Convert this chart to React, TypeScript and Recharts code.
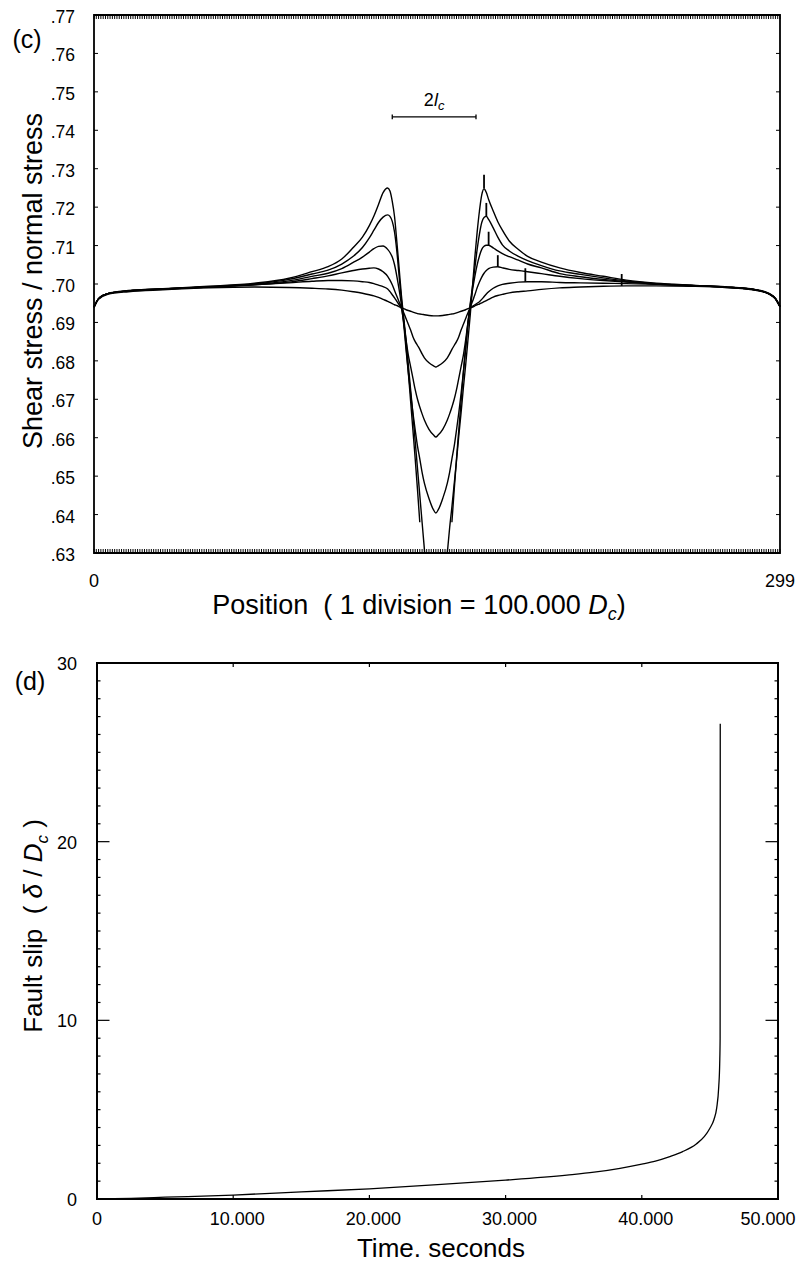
import React from 'react';
import { LineChart, Line, XAxis, YAxis, ReferenceLine, ReferenceArea } from 'recharts';

const FONT = "'Liberation Sans', Arial, Helvetica, sans-serif";

// ---- panel (c): shear/normal stress profiles along the fault ----
const POSITIONS = [
  0, 2, 6, 15, 30, 50, 70, 85, 95, 102,
  108, 113, 117, 120, 122, 124, 126, 128, 129, 130,
  131, 132, 133, 134, 135, 136, 137, 138, 139, 140,
  141, 142, 143, 144, 146, 148, 149, 150, 152, 154,
  155, 156, 157, 158, 159, 160, 161, 162, 163, 164,
  165, 166, 167, 168, 169, 170, 171, 172, 174, 176,
  178, 181, 185, 189, 195, 203, 212, 222, 232, 245,
  260, 275, 288, 294, 297, 299,
];

const STRESS_1 = [
  0.694, 0.6962, 0.6975, 0.6983, 0.6988, 0.6994, 0.7002, 0.7015, 0.7032, 0.7045,
  0.7065, 0.7095, 0.7122, 0.7152, 0.7177, 0.7207, 0.7238, 0.725, 0.7242, 0.7215,
  0.7175, 0.711, 0.704, 0.697, 0.6912, 0.6855, 0.679, 0.6725, 0.666, 0.659,
  0.652, 0.645, 0.638, 0.631, 0.618, 0.609, 0.607, 0.609, 0.617, 0.63,
  0.6365, 0.642, 0.648, 0.654, 0.6605, 0.6665, 0.673, 0.679, 0.6855, 0.692,
  0.6995, 0.707, 0.7135, 0.719, 0.7232, 0.7248, 0.7238, 0.722, 0.719, 0.7162,
  0.714, 0.7112, 0.709, 0.7072, 0.7057, 0.7042, 0.703, 0.702, 0.701, 0.7002,
  0.6997, 0.6993, 0.6986, 0.6976, 0.6963, 0.6942,
];

const STRESS_2 = [
  0.694, 0.6962, 0.6975, 0.6982, 0.6987, 0.6993, 0.7, 0.7012, 0.7026, 0.7036,
  0.7052, 0.7072, 0.7095, 0.712, 0.714, 0.716, 0.7174, 0.718, 0.7176, 0.7163,
  0.7135, 0.7085, 0.702, 0.6958, 0.6905, 0.684, 0.677, 0.6695, 0.662, 0.6545,
  0.6465, 0.638, null, null, null, null, null, null, null, null,
  null, 0.638, 0.6465, 0.6545, 0.662, 0.6695, 0.677, 0.684, 0.69, 0.695,
  0.6995, 0.7042, 0.709, 0.713, 0.716, 0.7173, 0.7176, 0.7168, 0.7146, 0.7122,
  0.7102, 0.7086, 0.7072, 0.7061, 0.7048, 0.7034, 0.7025, 0.7016, 0.7008, 0.7001,
  0.6996, 0.6992, 0.6985, 0.6975, 0.6962, 0.6941,
];

const STRESS_3 = [
  0.694, 0.6962, 0.6975, 0.6982, 0.6987, 0.6992, 0.6999, 0.7008, 0.702, 0.7028,
  0.704, 0.7056, 0.707, 0.7083, 0.7092, 0.7098, 0.7099, 0.709, 0.7082, 0.707,
  0.705, 0.702, 0.6985, 0.6945, 0.6895, 0.683, 0.677, 0.6715, 0.6665, 0.662,
  0.6578, 0.6545, 0.651, 0.6482, 0.6442, 0.6412, 0.6404, 0.6412, 0.6442, 0.6482,
  0.651, 0.6545, 0.6578, 0.662, 0.6665, 0.6715, 0.677, 0.683, 0.6895, 0.6945,
  0.6985, 0.702, 0.705, 0.7073, 0.709, 0.7098, 0.7101, 0.7101, 0.7094, 0.7086,
  0.7079, 0.7071, 0.7062, 0.7052, 0.7042, 0.7027, 0.7019, 0.7012, 0.7006, 0.7,
  0.6996, 0.6992, 0.6985, 0.6975, 0.6962, 0.6941,
];

const STRESS_4 = [
  0.694, 0.6962, 0.6975, 0.6982, 0.6987, 0.6992, 0.6998, 0.7005, 0.7014, 0.7021,
  0.7029, 0.7035, 0.7039, 0.7041, 0.7042, 0.7039, 0.7032, 0.702, 0.701, 0.6998,
  0.6983, 0.6968, 0.6953, 0.6938, 0.69, 0.6855, 0.6815, 0.6785, 0.6755, 0.6725,
  0.67, 0.668, 0.6662, 0.6646, 0.6622, 0.6607, 0.6602, 0.6607, 0.6622, 0.6646,
  0.6662, 0.668, 0.67, 0.6725, 0.6755, 0.6785, 0.6815, 0.6855, 0.69, 0.6938,
  0.6955, 0.6972, 0.699, 0.7005, 0.7018, 0.7028, 0.7035, 0.704, 0.7044, 0.7045,
  0.7042, 0.7038, 0.7035, 0.7032, 0.7027, 0.702, 0.7014, 0.7009, 0.7005, 0.7,
  0.6996, 0.6992, 0.6985, 0.6975, 0.6962, 0.6941,
];

const STRESS_5 = [
  0.694, 0.6962, 0.6975, 0.6982, 0.6987, 0.6992, 0.6998, 0.7003, 0.7007, 0.7009,
  0.7009, 0.7008, 0.7006, 0.7004, 0.7001, 0.6997, 0.6993, 0.6987, 0.698, 0.6972,
  0.6964, 0.6955, 0.6946, 0.6937, 0.6925, 0.691, 0.6895, 0.688, 0.6863, 0.685,
  0.684, 0.683, 0.6818, 0.6808, 0.6795, 0.6787, 0.6784, 0.6787, 0.6795, 0.6808,
  0.6818, 0.683, 0.684, 0.685, 0.6863, 0.688, 0.6895, 0.691, 0.6925, 0.6937,
  0.6942, 0.6946, 0.695, 0.6954, 0.696, 0.6967, 0.6974, 0.698, 0.6989, 0.6995,
  0.6999, 0.7002, 0.7005, 0.7006, 0.7006, 0.7004, 0.7003, 0.7002, 0.7001, 0.6999,
  0.6996, 0.6992, 0.6985, 0.6975, 0.6962, 0.6941,
];

const STRESS_6 = [
  0.6938, 0.696, 0.6973, 0.698, 0.6985, 0.699, 0.6992, 0.6991, 0.6989, 0.6987,
  0.6984, 0.698, 0.6976, 0.6972, 0.6969, 0.6965, 0.696, 0.6955, 0.6952, 0.6949,
  0.6946, 0.6944, 0.6941, 0.6938, 0.6936, 0.6933, 0.6931, 0.6929, 0.6927, 0.6925,
  0.6923, 0.6922, 0.6921, 0.692, 0.6918, 0.6917, 0.6917, 0.6917, 0.6918, 0.692,
  0.6921, 0.6922, 0.6923, 0.6925, 0.6927, 0.6929, 0.6931, 0.6933, 0.6936, 0.6938,
  0.694, 0.6943, 0.6946, 0.6948, 0.6951, 0.6954, 0.6957, 0.696, 0.6966, 0.697,
  0.6973, 0.6977, 0.698, 0.6982, 0.6986, 0.699, 0.6992, 0.6994, 0.6995, 0.6995,
  0.6994, 0.6991, 0.6984, 0.6974, 0.6961, 0.694,
];

// small vertical marks at the stress peak (rupture front) of each profile
const FRONT_POS = [170, 171, 172, 176, 188, 230];
const FRONT_LOW = [0.7249, 0.7175, 0.7101, 0.7045, 0.7006, 0.6995];
const FRONT_HIGH = [0.7284, 0.7211, 0.7136, 0.7075, 0.7041, 0.7026];

// 2lc scale bar
const BAR_FROM = 130;
const BAR_TO = 166.5;
const BAR_LEVEL = 0.7435;

const STRESS_TICKS = [0.63, 0.64, 0.65, 0.66, 0.67, 0.68, 0.69, 0.7, 0.71, 0.72, 0.73, 0.74, 0.75, 0.76, 0.77];
const POSITION_LABELS = [0, 299];
const POSITION_TICKS = Array.from({ length: 300 }, (_, i) => i);

// ---- panel (d): fault slip vs time ----
const SLIP_TIME = [
  0, 2500, 5000, 10000, 15000, 20000, 25000, 30000, 34500, 36500,
  38400, 40000, 41000, 42000, 43000, 44000, 44600, 45000, 45300, 45500,
  45650, 45720, 45750, 45760,
];
const SLIP_VALUE = [
  0, 0.04, 0.1, 0.22, 0.4, 0.57, 0.8, 1.06, 1.34, 1.5,
  1.72, 1.95, 2.12, 2.36, 2.65, 3.08, 3.5, 3.96, 4.45, 5.1,
  6.3, 7.6, 9.0, 26.6,
];
const TIME_TICKS = [0, 10000, 20000, 30000, 40000, 50000];
const SLIP_LABELS = [0, 10, 20, 30];
const SLIP_TICKS = Array.from({ length: 31 }, (_, i) => i);

const stressData = POSITIONS.map((p, i) => ({
  p,
  s1: STRESS_1[i],
  s2: STRESS_2[i],
  s3: STRESS_3[i],
  s4: STRESS_4[i],
  s5: STRESS_5[i],
  s6: STRESS_6[i],
}));

const slipData = SLIP_TIME.map((t, i) => ({ t, slip: SLIP_VALUE[i] }));

// layout of the two plot boxes
const W = 802;
const C_H = 640;
const C_LEFT = 94;
const C_RIGHT = 780;
const C_TOP = 15;
const C_BOTTOM = 553;

const D_OFFSET = 620;
const D_H = 648;
const D_LEFT = 97;
const D_RIGHT = 778;
const D_TOP = 43;
const D_BOTTOM = 579;

const AXIS_W = 60;
const AXIS_H = 40;

const txt = { fontFamily: FONT, fill: '#000', style: { whiteSpace: 'pre' as const } };

function PositionTick({ x, payload }: any) {
  const v = payload.value;
  return (
    <g>
      <line x1={x} x2={x} y1={C_BOTTOM} y2={C_BOTTOM - 4} stroke="#000" strokeWidth={1} />
      <line x1={x} x2={x} y1={C_TOP} y2={C_TOP + 4} stroke="#000" strokeWidth={1} />
      {POSITION_LABELS.includes(v) && (
        <text {...txt} x={x} y={C_BOTTOM + 34} textAnchor="middle" fontSize={18}>
          {v}
        </text>
      )}
    </g>
  );
}

function StressTick({ y, payload }: any) {
  return (
    <g>
      <line x1={C_LEFT} x2={C_LEFT + 4} y1={y} y2={y} stroke="#000" strokeWidth={1} />
      <line x1={C_RIGHT} x2={C_RIGHT - 4} y1={y} y2={y} stroke="#000" strokeWidth={1} />
      <text {...txt} x={75} y={y + 8} textAnchor="end" fontSize={17.5}>
        {payload.value.toFixed(2).slice(1)}
      </text>
    </g>
  );
}

function PositionTitle() {
  return (
    <text {...txt} x={419} y={614} textAnchor="middle" fontSize={27}>
      {'Position  ( 1 division = 100.000 '}
      <tspan fontStyle="italic">D</tspan>
      <tspan fontStyle="italic" fontSize={18} dy={6}>c</tspan>
      <tspan dy={-6}>)</tspan>
    </text>
  );
}

function StressTitle() {
  return (
    <g>
      <text {...txt} x={27} y={48} textAnchor="middle" fontSize={25}>(c)</text>
      <text {...txt} transform={`translate(42, 281) rotate(-90)`} textAnchor="middle" fontSize={27}>
        Shear stress / normal stress
      </text>
    </g>
  );
}

function BarLabel({ viewBox }: any) {
  const cx = viewBox ? viewBox.x + viewBox.width / 2 : 434;
  const y = viewBox ? viewBox.y - 11 : 106;
  return (
    <text {...txt} x={cx} y={y} textAnchor="middle" fontSize={18}>
      2<tspan fontStyle="italic">l</tspan>
      <tspan fontStyle="italic" fontSize={13} dy={4}>c</tspan>
    </text>
  );
}

function formatTime(v: number) {
  return v === 0 ? '0' : `${v / 1000}.000`;
}

function TimeTick({ x, payload }: any) {
  const v = payload.value;
  const dx = v === TIME_TICKS[TIME_TICKS.length - 1] ? -10 : v === 0 ? 0 : 4;
  return (
    <g>
      <line x1={x} x2={x} y1={D_BOTTOM} y2={D_BOTTOM - 4} stroke="#000" strokeWidth={1.2} />
      <line x1={x} x2={x} y1={D_TOP} y2={D_TOP + 4} stroke="#000" strokeWidth={1.2} />
      <text {...txt} x={x + dx} y={D_BOTTOM + 26} textAnchor="middle" fontSize={18}>
        {formatTime(v)}
      </text>
    </g>
  );
}

function SlipTick({ y, payload }: any) {
  const v = payload.value;
  const len = v % 10 === 0 ? 12.5 : 3.5;
  return (
    <g>
      <line x1={D_LEFT} x2={D_LEFT + len} y1={y} y2={y} stroke="#000" strokeWidth={1.2} />
      <line x1={D_RIGHT} x2={D_RIGHT - len} y1={y} y2={y} stroke="#000" strokeWidth={1.2} />
      {SLIP_LABELS.includes(v) && (
        <text {...txt} x={77} y={y + 7} textAnchor="end" fontSize={18}>
          {v}
        </text>
      )}
    </g>
  );
}

function TimeTitle() {
  return (
    <text {...txt} x={441} y={637} textAnchor="middle" fontSize={26}>
      Time. seconds
    </text>
  );
}

function SlipTitle() {
  return (
    <g>
      <text {...txt} x={30} y={70} textAnchor="middle" fontSize={25}>(d)</text>
      <text {...txt} transform={`translate(42, 306) rotate(-90)`} textAnchor="middle" fontSize={26}>
        {'Fault slip  ( '}
        <tspan fontStyle="italic">δ</tspan>
        {' / '}
        <tspan fontStyle="italic">D</tspan>
        <tspan fontStyle="italic" fontSize={17} dy={6}>c</tspan>
        <tspan dy={-6}>{' )'}</tspan>
      </text>
    </g>
  );
}

function StressChart() {
  return (
    <LineChart
      width={W}
      height={C_H}
      data={stressData}
      margin={{ top: C_TOP, right: W - C_RIGHT, bottom: C_H - C_BOTTOM - AXIS_H, left: C_LEFT - AXIS_W }}
    >
      <XAxis
        dataKey="p"
        type="number"
        domain={[0, 299]}
        ticks={POSITION_TICKS}
        interval={0}
        tick={<PositionTick />}
        tickLine={false}
        axisLine={false}
        height={AXIS_H}
        label={<PositionTitle />}
      />
      <YAxis
        type="number"
        domain={[0.63, 0.77]}
        ticks={STRESS_TICKS}
        interval={0}
        allowDataOverflow
        tick={<StressTick />}
        tickLine={false}
        axisLine={false}
        width={AXIS_W}
        label={<StressTitle />}
      />
      <ReferenceArea x1={0} x2={299} y1={0.63} y2={0.77} fill="none" stroke="#000" strokeWidth={1.8} />
      {['s1', 's2', 's3', 's4', 's5', 's6'].map((k) => (
        <Line
          key={k}
          type="monotone"
          dataKey={k}
          stroke="#000"
          strokeWidth={1.4}
          dot={false}
          activeDot={false}
          isAnimationActive={false}
        />
      ))}
      {FRONT_POS.map((p, i) => (
        <ReferenceLine
          key={`front-${p}`}
          segment={[
            { x: p, y: FRONT_LOW[i] },
            { x: p, y: FRONT_HIGH[i] },
          ]}
          stroke="#000"
          strokeWidth={1.8}
        />
      ))}
      <ReferenceLine
        segment={[
          { x: BAR_FROM, y: BAR_LEVEL },
          { x: BAR_TO, y: BAR_LEVEL },
        ]}
        stroke="#000"
        strokeWidth={1.3}
        label={<BarLabel />}
      />
      {[BAR_FROM, BAR_TO].map((p) => (
        <ReferenceLine
          key={`cap-${p}`}
          segment={[
            { x: p, y: BAR_LEVEL - 0.0006 },
            { x: p, y: BAR_LEVEL + 0.0006 },
          ]}
          stroke="#000"
          strokeWidth={1.3}
        />
      ))}
    </LineChart>
  );
}

function SlipChart() {
  return (
    <LineChart
      width={W}
      height={D_H}
      data={slipData}
      margin={{ top: D_TOP, right: W - D_RIGHT, bottom: D_H - D_BOTTOM - AXIS_H, left: D_LEFT - AXIS_W }}
    >
      <XAxis
        dataKey="t"
        type="number"
        domain={[0, 50000]}
        ticks={TIME_TICKS}
        interval={0}
        tick={<TimeTick />}
        tickLine={false}
        axisLine={false}
        height={AXIS_H}
        label={<TimeTitle />}
      />
      <YAxis
        type="number"
        domain={[0, 30]}
        ticks={SLIP_TICKS}
        interval={0}
        tick={<SlipTick />}
        tickLine={false}
        axisLine={false}
        width={AXIS_W}
        label={<SlipTitle />}
      />
      <ReferenceArea x1={0} x2={50000} y1={0} y2={30} fill="none" stroke="#000" strokeWidth={2} />
      <Line
        type="monotone"
        dataKey="slip"
        stroke="#000"
        strokeWidth={1.3}
        dot={false}
        activeDot={false}
        isAnimationActive={false}
      />
    </LineChart>
  );
}

export default function App() {
  return (
    <div style={{ position: 'absolute', left: 0, top: 0, width: W, height: 1268, background: '#fff' }}>
      <div style={{ position: 'absolute', left: 0, top: 0 }}>
        <StressChart />
      </div>
      <div style={{ position: 'absolute', left: 0, top: D_OFFSET }}>
        <SlipChart />
      </div>
    </div>
  );
}
